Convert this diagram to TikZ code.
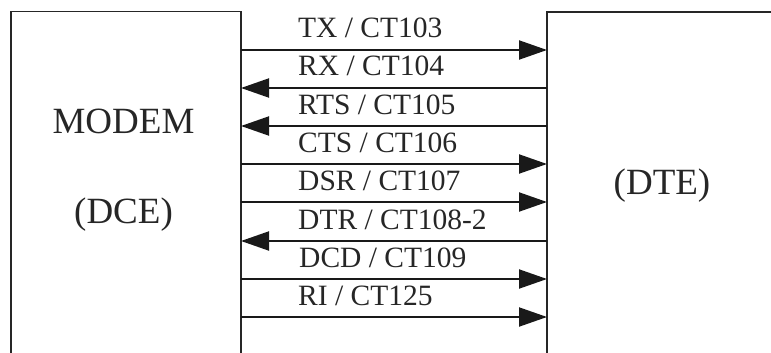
\documentclass[tikz,border=0pt]{standalone}
\usepackage{fontspec}
\setmainfont{Liberation Serif}
\usetikzlibrary{arrows.meta}
\begin{document}
\begin{tikzpicture}[x=1pt,y=1pt,
  boxline/.style={line width=1.3pt,draw=black!85},
  sig/.style={line width=2pt,draw=black!90,-{Triangle[length=28pt,width=19pt]}},
  lbl/.style={anchor=base west,inner sep=0pt,font=\fontsize{29.5}{32}\selectfont,text=black!85},
  big/.style={anchor=base,inner sep=0pt,font=\fontsize{37}{40}\selectfont,text=black!85}]
\useasboundingbox (0,0) rectangle (771,-353);
% boxes (open at the bottom / right)
\draw[boxline] (11,-353) -- (11,-11.5) -- (241,-11.5) -- (241,-353);
\draw[boxline] (547,-353) -- (547,-12) -- (771,-12);
\node[big] (modem) at (123.5,-133) {MODEM};
\node[big] (dce) at (123.5,-223) {(DCE)};
\node[big] (dte) at (662,-194) {(DTE)};
% signal lines
\foreach \n/\y in {1/50,2/88,3/126,4/164,5/202,6/241,7/279,8/317}{
  \coordinate (L\n) at (241,-\y);
  \coordinate (R\n) at (547,-\y);
}
\draw[sig] (L1) -- (R1);
\draw[sig] (R2) -- (L2);
\draw[sig] (R3) -- (L3);
\draw[sig] (L4) -- (R4);
\draw[sig] (L5) -- (R5);
\draw[sig] (R6) -- (L6);
\draw[sig] (L7) -- (R7);
\draw[sig] (L8) -- (R8);
\node[lbl] (t1) at (298,-38) {TX / CT103};
\node[lbl] (t2) at (298,-76) {RX / CT104};
\node[lbl] (t3) at (298,-114) {RTS / CT105};
\node[lbl] (t4) at (298,-152) {CTS / CT106};
\node[lbl] (t5) at (298,-190) {DSR / CT107};
\node[lbl] (t6) at (298,-229) {DTR / CT108-2};
\node[lbl] (t7) at (299,-267) {DCD / CT109};
\node[lbl] (t8) at (298,-305) {RI / CT125};
\end{tikzpicture}
\end{document}
